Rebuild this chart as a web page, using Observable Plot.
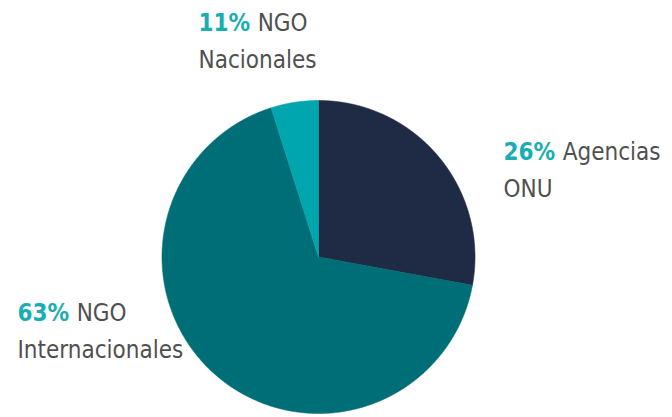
<!DOCTYPE html>
<html><head><meta charset="utf-8">
<script src="https://cdn.jsdelivr.net/npm/d3@7"></script>
<script src="https://cdn.jsdelivr.net/npm/@observablehq/plot@0.6"></script>
<style>html,body{margin:0;padding:0;background:#fff}</style>
</head><body><div id="chart"></div>
<script>
// ---- data ----
const categories = ["Agencias ONU", "NGO Internacionales", "NGO Nacionales"];
const labelPercents = ["26%", "63%", "11%"];
const sliceShares = [27.9, 67.2, 4.9];            // slice sizes as drawn
const labelLines = [["Agencias", "ONU"], ["NGO", "Internacionales"], ["NGO", "Nacionales"]];

// ---- style / layout ----
const colors = ["#1f2b45", "#006e76", "#00a6ae"];
const pctColor = "#1aadb3";
const textColor = "#505050";
const fontFamily = "'DejaVu Sans Condensed', 'DejaVu Sans', sans-serif";
const W = 672, H = 417, cx = 318, cy = 256.5, R = 156.5;
const labelPos = [[503, 133], [17, 294], [198, 4]];

// pie geometry
const arcs = d3.pie().sort(null).value(d => d)(sliceShares);
const pts = [];
arcs.forEach((a, i) => {
  pts.push({slice: i, x: cx, y: cy});
  const n = Math.max(2, Math.ceil((a.endAngle - a.startAngle) / (Math.PI / 720)));
  for (let k = 0; k <= n; k++) {
    const t = a.startAngle + (a.endAngle - a.startAngle) * k / n;
    pts.push({slice: i, x: cx + R * Math.sin(t), y: cy - R * Math.cos(t)});
  }
  pts.push({slice: i, x: cx, y: cy});
});

const labels = categories.map((c, i) => ({
  i, x: labelPos[i][0], y: labelPos[i][1], text: labelLines[i].join("\n")
}));

const plot = Plot.plot({
  width: W, height: H, margin: 0,
  x: {domain: [0, W], range: [0, W], axis: null},
  y: {domain: [0, H], range: [0, H], axis: null},
  marks: [
    Plot.line(pts, {x: "x", y: "y", z: "slice", curve: "linear",
      fill: d => colors[d.slice], stroke: d => colors[d.slice], strokeWidth: 0.6}),
    Plot.text(labels, {x: "x", y: "y", text: "text", textAnchor: "start", lineAnchor: "top",
      lineHeight: 1.54, fontSize: 24, fill: textColor, fontFamily})
  ]
});
plot.style.fontFamily = fontFamily;
document.getElementById("chart").appendChild(plot);

// add bold percentages in front of first line
let texts = plot.querySelectorAll('g[aria-label="text"] text');
if (!texts.length) texts = plot.querySelectorAll('text');
texts.forEach((t, j) => {
  const first = t.querySelector("tspan") || t;
  const sp = document.createElementNS("http://www.w3.org/2000/svg", "tspan");
  sp.setAttribute("font-weight", "bold");
  sp.setAttribute("fill", pctColor);
  sp.textContent = labelPercents[labels[j].i] + " ";
  first.insertBefore(sp, first.firstChild);
});
</script>
</body></html>
